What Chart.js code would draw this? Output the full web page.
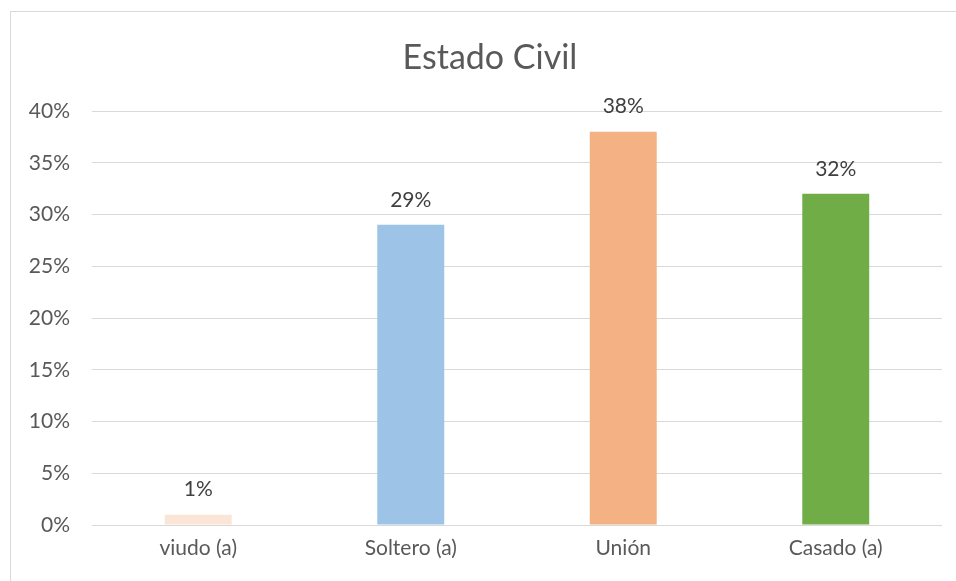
<!DOCTYPE html>
<html>
<head>
<meta charset="utf-8">
<script src="https://cdn.jsdelivr.net/npm/chart.js@4"></script>
<style>
    html, body { margin: 0; padding: 0; background: #fff; overflow: hidden; }
    #wrap { position: absolute; left: 0; top: 0; width: 956px; height: 581px; }
    #frame { position: absolute; left: 10px; top: 11px; width: 1000px; height: 700px; border: 1px solid #d9d9d9; }
</style>
</head>
<body>
<div id="frame"></div>
<div id="wrap"><canvas id="chart" width="956" height="581"></canvas></div>
<script>
const categories = ['viudo (a)', 'Soltero (a)', 'Unión', 'Casado (a)'];
const values = [1, 29, 38, 32];
const barColors = ['#FBE5D6', '#9DC3E6', '#F4B183', '#70AD47'];
const yTicks = [0, 5, 10, 15, 20, 25, 30, 35, 40];
const chartTitle = 'Estado Civil';

const FONT = 'Lato, "Open Sans", sans-serif';
const TEXT = '#595959';

// etiquetas de datos encima de cada barra + título centrado en el marco
const barLabels = {
    id: 'barLabels',
    afterDatasetsDraw(chart) {
        const ctx = chart.ctx;
        const meta = chart.getDatasetMeta(0);
        ctx.save();
        ctx.font = '21px ' + FONT;
        ctx.fillStyle = '#404040';
        ctx.textAlign = 'center';
        ctx.textBaseline = 'middle';
        meta.data.forEach((bar, i) => {
            ctx.fillText(values[i] + '%', bar.x, bar.y - 25);
        });
        ctx.font = '34px ' + FONT;
        ctx.fillStyle = TEXT;
        ctx.fillText(chartTitle, 490, 58);
        ctx.restore();
    }
};

new Chart(document.getElementById('chart').getContext('2d'), {
    type: 'bar',
    data: {
        labels: categories,
        datasets: [{
            data: values,
            backgroundColor: barColors,
            borderWidth: 0,
            barPercentage: 0.315,
            categoryPercentage: 1
        }]
    },
    options: {
        responsive: false,
        animation: false,
        layout: { padding: { top: 111, right: 14, bottom: 0, left: 0 } },
        plugins: {
            legend: { display: false },
            tooltip: { enabled: false },
            title: { display: false }
        },
        scales: {
            x: {
                afterFit(scale) { scale.height = 56; },
                grid: { display: false, drawTicks: false },
                border: { display: false },
                ticks: { color: TEXT, font: { family: FONT, size: 21 }, padding: 11 }
            },
            y: {
                min: 0,
                max: 40,
                afterFit(scale) { scale.width = 92; },
                afterBuildTicks(scale) { scale.ticks = yTicks.map(v => ({ value: v })); },
                grid: { color: '#d9d9d9', lineWidth: 1, drawTicks: false },
                border: { display: false },
                ticks: {
                    color: TEXT,
                    font: { family: FONT, size: 21 },
                    padding: 22,
                    callback: v => v + '%'
                }
            }
        }
    },
    plugins: [barLabels]
});
</script>
</body>
</html>
